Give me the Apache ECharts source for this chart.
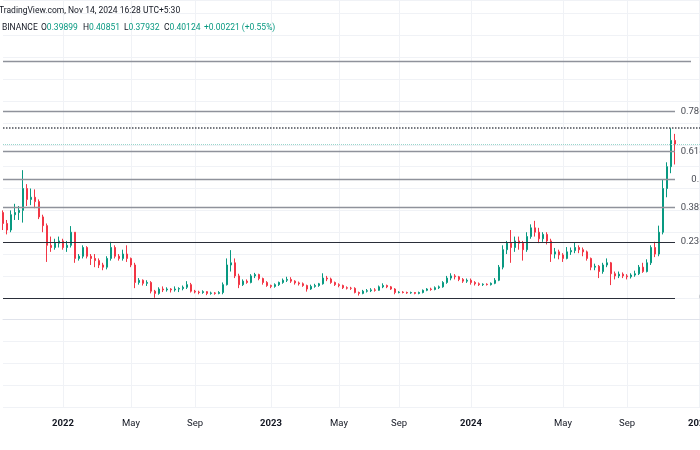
<!DOCTYPE html>
<html><head><meta charset="utf-8">
<script src="https://cdn.jsdelivr.net/npm/echarts@6/dist/echarts.min.js"></script>
<style>html,body{margin:0;padding:0;background:#fff}#c{width:700px;height:450px}</style>
</head><body><div id="c"></div>
<script>
// [open, close, low, high] — DOGE/USDT, one candle per ~week-sized slot
const candles = [
[0.245,0.22,0.205,0.25],[0.22,0.205,0.195,0.228],[0.205,0.24,0.2,0.25],[0.24,0.245,0.228,0.265],[0.245,0.25,0.228,0.26],
[0.25,0.30,0.222,0.342],[0.30,0.275,0.26,0.31],[0.275,0.28,0.262,0.30],[0.28,0.27,0.255,0.298],[0.27,0.235,0.23,0.275],
[0.235,0.215,0.20,0.24],[0.215,0.17,0.132,0.22],[0.17,0.165,0.155,0.19],[0.165,0.175,0.16,0.185],[0.175,0.18,0.165,0.19],
[0.18,0.165,0.16,0.185],[0.165,0.17,0.155,0.18],[0.17,0.20,0.165,0.214],[0.20,0.14,0.13,0.20],[0.14,0.145,0.135,0.15],
[0.145,0.165,0.14,0.17],[0.165,0.145,0.14,0.168],[0.145,0.14,0.125,0.15],[0.14,0.135,0.12,0.15],[0.135,0.125,0.118,0.14],
[0.125,0.12,0.113,0.13],[0.12,0.14,0.115,0.145],[0.14,0.165,0.135,0.178],[0.165,0.145,0.14,0.17],[0.145,0.14,0.135,0.15],
[0.14,0.15,0.135,0.16],[0.15,0.14,0.132,0.17],[0.14,0.125,0.12,0.142],[0.125,0.085,0.072,0.13],[0.085,0.09,0.08,0.095],
[0.09,0.083,0.078,0.092],[0.083,0.085,0.077,0.09],[0.085,0.065,0.06,0.088],[0.065,0.06,0.05,0.068],[0.06,0.07,0.057,0.074],
[0.07,0.068,0.063,0.076],[0.068,0.07,0.064,0.074],[0.07,0.068,0.062,0.072],[0.068,0.07,0.064,0.076],[0.07,0.071,0.063,0.074],
[0.071,0.074,0.067,0.078],[0.074,0.08,0.07,0.088],[0.08,0.065,0.062,0.084],[0.065,0.063,0.06,0.068],[0.063,0.062,0.058,0.066],
[0.062,0.064,0.059,0.067],[0.064,0.06,0.056,0.065],[0.06,0.061,0.057,0.064],[0.061,0.06,0.057,0.063],[0.06,0.062,0.058,0.065],
[0.062,0.08,0.058,0.085],[0.08,0.125,0.078,0.14],[0.125,0.13,0.11,0.159],[0.13,0.10,0.095,0.14],[0.10,0.08,0.072,0.105],
[0.08,0.088,0.077,0.092],[0.088,0.085,0.082,0.092],[0.085,0.10,0.083,0.104],[0.10,0.103,0.095,0.107],[0.103,0.094,0.09,0.105],
[0.094,0.085,0.08,0.096],[0.085,0.078,0.075,0.088],[0.078,0.076,0.072,0.08],[0.076,0.08,0.073,0.083],[0.08,0.085,0.077,0.087],
[0.085,0.09,0.082,0.094],[0.09,0.092,0.086,0.098],[0.092,0.088,0.084,0.097],[0.088,0.084,0.08,0.09],[0.084,0.082,0.078,0.087],
[0.082,0.078,0.075,0.085],[0.078,0.07,0.064,0.08],[0.07,0.076,0.068,0.08],[0.076,0.078,0.073,0.082],[0.078,0.082,0.075,0.084],
[0.082,0.095,0.08,0.106],[0.095,0.093,0.088,0.10],[0.093,0.085,0.082,0.096],[0.085,0.08,0.077,0.087],[0.08,0.078,0.074,0.083],
[0.078,0.073,0.07,0.08],[0.073,0.072,0.069,0.076],[0.072,0.0715,0.068,0.075],[0.0715,0.062,0.06,0.074],[0.062,0.06,0.055,0.064],
[0.06,0.065,0.058,0.068],[0.065,0.066,0.062,0.07],[0.066,0.068,0.063,0.072],[0.068,0.067,0.064,0.072],[0.067,0.075,0.066,0.078],
[0.075,0.078,0.072,0.083],[0.078,0.075,0.072,0.08],[0.075,0.07,0.068,0.077],[0.07,0.062,0.058,0.072],[0.062,0.063,0.06,0.065],
[0.063,0.062,0.06,0.065],[0.062,0.061,0.059,0.064],[0.061,0.062,0.059,0.064],[0.062,0.06,0.058,0.063],[0.06,0.062,0.058,0.064],
[0.062,0.067,0.06,0.069],[0.067,0.07,0.065,0.072],[0.07,0.069,0.066,0.073],[0.069,0.073,0.067,0.076],[0.073,0.075,0.07,0.078],
[0.075,0.085,0.073,0.088],[0.085,0.095,0.082,0.10],[0.095,0.10,0.09,0.106],[0.10,0.098,0.092,0.104],[0.098,0.092,0.088,0.10],
[0.092,0.088,0.084,0.095],[0.088,0.09,0.084,0.094],[0.09,0.085,0.08,0.094],[0.085,0.082,0.078,0.088],[0.082,0.08,0.077,0.085],
[0.08,0.081,0.077,0.083],[0.081,0.08,0.078,0.083],[0.08,0.083,0.078,0.085],[0.083,0.09,0.081,0.095],[0.09,0.12,0.088,0.125],
[0.12,0.16,0.115,0.17],[0.16,0.175,0.15,0.18],[0.175,0.165,0.13,0.205],[0.165,0.18,0.155,0.19],[0.18,0.175,0.16,0.19],
[0.175,0.16,0.135,0.18],[0.16,0.19,0.155,0.20],[0.19,0.21,0.185,0.218],[0.21,0.20,0.19,0.226],[0.20,0.185,0.175,0.21],
[0.185,0.195,0.178,0.20],[0.195,0.18,0.172,0.20],[0.18,0.15,0.132,0.185],[0.15,0.155,0.14,0.164],[0.155,0.148,0.138,0.16],
[0.148,0.14,0.132,0.152],[0.14,0.155,0.138,0.166],[0.155,0.158,0.148,0.165],[0.158,0.165,0.152,0.176],[0.165,0.16,0.152,0.17],
[0.16,0.155,0.145,0.165],[0.155,0.14,0.135,0.158],[0.14,0.12,0.113,0.142],[0.12,0.122,0.113,0.128],[0.122,0.11,0.095,0.125],
[0.11,0.125,0.105,0.13],[0.125,0.13,0.12,0.14],[0.13,0.105,0.079,0.132],[0.105,0.10,0.092,0.11],[0.10,0.104,0.095,0.11],
[0.104,0.10,0.095,0.108],[0.10,0.098,0.092,0.104],[0.098,0.102,0.094,0.106],[0.102,0.105,0.098,0.112],[0.105,0.12,0.102,0.125],
[0.12,0.11,0.107,0.13],[0.11,0.13,0.108,0.138],[0.13,0.165,0.125,0.17],[0.165,0.15,0.143,0.178],[0.15,0.20,0.145,0.215],
[0.20,0.30,0.195,0.32],[0.30,0.35,0.28,0.36],[0.35,0.41,0.335,0.438],[0.41,0.401,0.355,0.425]
];
const slotCount = 177;                       // candle slots incl. empty space on the right
const tickLabels = [[15,'2022'],[32,'May'],[48,'Sep'],[67,'2023'],[84,'May'],[99,'Sep'],[117,'2024'],[140,'May'],[156,'Sep'],[174,'2025']];
const fibLevels = [0, 0.236, 0.382, 0.5, 0.618, 0.786];
const fibLabels = ['0', '0.236', '0.382', '0.5', '0.618', '0.786'];
const fibLow = 0.0495, fibHigh = 0.5917;
const highPrice = 0.438, lastPrice = 0.40124;
const headerLine = 'TradingView.com, Nov 14, 2024 16:28 UTC+5:30';
const symbolName = 'BINANCE';
const ohlcKeys = ['O', 'H', 'L', 'C'];
const ohlcVals = ['0.39899', '0.40851', '0.37932', '0.40124'];
const changeText = '+0.00221 (+0.55%)';

const slots = [];
for (let i = 0; i < slotCount; i++) slots.push(String(i));
const tickMap = {};
tickLabels.forEach(([i, t]) => tickMap[i] = t);
const fibPrice = lv => fibLow + lv * (fibHigh - fibLow);
const lastCandle = candles.length - 1;

const FONT = 'Roboto';
const dark = '#131722', teal = '#089981';
const txt = (o) => Object.assign({fontFamily: FONT, fontSize: 8.5, fontWeight: 'normal', color: dark}, o || {});

const ohlcLeft = [41, 83, 124, 164];
const titles = [
  {text: headerLine, left: -1, top: 6, padding: 0, textStyle: txt()},
  {text: symbolName, left: 2, top: 23.5, padding: 0, textStyle: txt()},
  {text: '{v|' + changeText + '}', left: 204, top: 23.5, padding: 0, textStyle: txt({rich: {v: txt({color: teal})}})}
];
ohlcKeys.forEach((k, j) => titles.push({
  text: '{k|' + k + '}{v|' + ohlcVals[j] + '}', left: ohlcLeft[j], top: 23.5, padding: 0,
  textStyle: txt({rich: {k: txt(), v: txt({color: teal})}})
}));

const fibColors = fibLevels.map(lv => (lv === 0 || lv === 0.236) ? '#2a2e39' : '#8f929b');
const markData = fibLevels.map((lv, k) => [
  {coord: [0, fibPrice(lv)], lineStyle: {color: fibColors[k], width: (lv === 0 || lv === 0.236) ? 1.2 : 1.4, type: 'solid'}},
  {coord: [lastCandle, fibPrice(lv)]}
]);
markData.push([{coord: [0, fibPrice(1)], lineStyle: {color: '#8f929b', width: 1.4, type: 'solid'}}, {coord: [172, fibPrice(1)]}]);
markData.push([{coord: [0, highPrice], lineStyle: {color: '#4a4d57', width: 1.5, type: 'dotted'}}, {coord: [slotCount - 1, highPrice]}]);
markData.push([{coord: [0, lastPrice], lineStyle: {color: '#9ad6cc', width: 1, type: 'dotted'}}, {coord: [slotCount - 1, lastPrice]}]);

const chart = echarts.init(document.getElementById('c'), null, {renderer: 'canvas'});
chart.setOption({
  animation: false,
  backgroundColor: '#ffffff',
  title: titles,
  grid: {left: 3, top: 0, width: 704, bottom: 43, containLabel: false, outerBoundsMode: 'none'},
  xAxis: {
    type: 'category', data: slots, boundaryGap: false,
    axisLine: {show: true, lineStyle: {color: '#e0e3eb'}},
    axisTick: {show: false},
    axisLabel: {
      interval: (i) => tickMap[i] !== undefined,
      formatter: (v) => { const t = tickMap[v]; if (!t) return ''; return /^\d+$/.test(t) ? '{y|' + t + '}' : '{m|' + t + '}'; },
      margin: 12, hideOverlap: false,
      rich: {
        y: {fontFamily: FONT, fontSize: 9.5, fontWeight: 'bold', color: dark},
        m: {fontFamily: FONT, fontSize: 9.5, color: dark}
      }
    },
    splitLine: {show: true, interval: (i) => tickMap[i] !== undefined, lineStyle: {color: '#f0f2f6', width: 1}}
  },
  yAxis: {
    type: 'value', position: 'right', min: -0.2, max: 0.7314, interval: 0.05, scale: false,
    axisLine: {show: false}, axisTick: {show: false}, axisLabel: {show: false},
    splitLine: {show: true, lineStyle: {color: '#f0f2f6', width: 1}}
  },
  series: [
    {
      type: 'candlestick', data: candles, barWidth: 2,
      itemStyle: {color: '#089981', color0: '#f23645', borderColor: '#089981', borderColor0: '#f23645', borderWidth: 1},
      markLine: {silent: true, symbol: ['none', 'none'], label: {show: false}, data: markData, animation: false}
    },
    {
      type: 'scatter', data: fibLevels.map(lv => [slotCount - 1, fibPrice(lv)]), symbolSize: 1,
      itemStyle: {color: 'rgba(0,0,0,0)'}, silent: true,
      label: {show: true, position: 'left', distance: 2, formatter: (p) => fibLabels[p.dataIndex],
        fontFamily: FONT, fontSize: 9.5, color: dark}
    }
  ]
});
</script></body></html>
